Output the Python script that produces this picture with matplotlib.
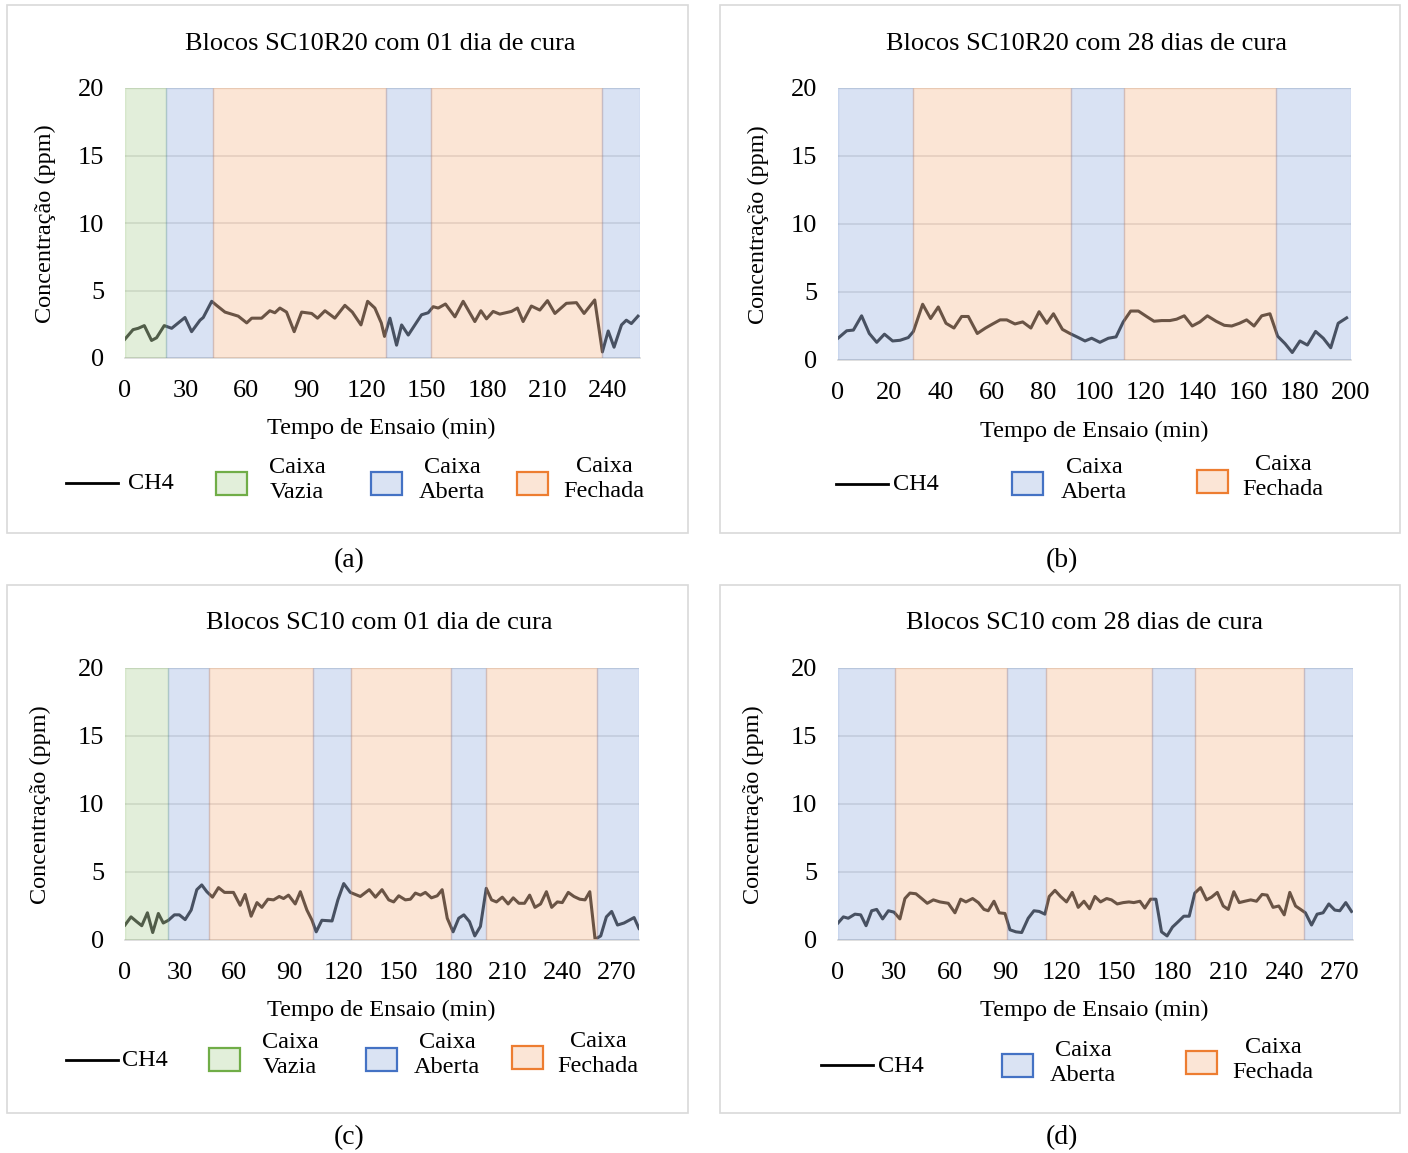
import matplotlib.pyplot as plt
from matplotlib.patches import Rectangle
from matplotlib.lines import Line2D

# ==== DADOS ====

# (a) SC10R20, 01 dia
t_a = [0, 4, 6.6, 9.6, 13.2, 15.7, 19.5, 23.2, 29.8, 33.1, 37.3, 38.9, 43.1, 45.5, 49.7,
       56.3, 60.5, 63, 67.9, 72, 74.5, 77, 80.3, 84.1, 87.8, 92.8, 95.7, 99.4, 104.3, 109.3,
       113, 117.3, 120.6, 124.2, 127.4, 129, 131.7, 135, 137.5, 140.8, 147.4, 150.7, 153.2,
       155.7, 159.3, 164, 168.1, 173.9, 176.9, 179.7, 183, 186.3, 192.1, 195.1, 197.9, 202,
       206.2, 210, 213.7, 219.4, 224.4, 228.2, 233.5, 237.3, 240.2, 243.1, 246.8, 249.2,
       251.7, 255]
ch4_a = [1.4, 2.1, 2.2, 2.4, 1.3, 1.5, 2.4, 2.2, 3.0, 1.95, 2.8, 3.0, 4.2, 3.9, 3.4,
         3.1, 2.6, 2.95, 2.95, 3.5, 3.35, 3.7, 3.4, 1.95, 3.4, 3.3, 2.95, 3.5, 2.95, 3.9,
         3.4, 2.45, 4.2, 3.7, 2.6, 1.6, 2.95, 0.95, 2.45, 1.7, 3.2, 3.35, 3.8,
         3.7, 4.0, 3.05, 4.2, 2.7, 3.5, 2.9, 3.45, 3.25, 3.45, 3.7, 2.7, 3.85,
         3.55, 4.25, 3.3, 4.05, 4.1, 3.3, 4.3, 0.45, 2.0, 0.8, 2.45, 2.8,
         2.55, 3.1]
lim_a = [0, 20.4, 43.7, 129.7, 152, 237, 256]
fase_a = ['vazia', 'aberta', 'fechada', 'aberta', 'fechada', 'aberta']

# (b) SC10R20, 28 dias
t_b = [0, 3.4, 6, 9.2, 12.2, 15.1, 18.1, 21.3, 24.2, 27.4, 29.4, 33, 36.1, 39.1, 42.1,
       45.2, 48.2, 50.8, 54.3, 57.5, 60.3, 63.2, 65.8, 69, 72, 75.2, 78.4, 81.4, 84, 87.5,
       90.4, 93.7, 96.3, 98.9, 102.1, 105.4, 108.4, 111.2, 114.1, 117.1, 120.3, 123.2,
       126.2, 129.4, 132, 135, 138.1, 141.1, 144, 147.4, 150.6, 153.5, 156.5, 159.3, 162.2,
       165.2, 168.4, 171.4, 174.3, 177.1, 180.1, 183, 186.2, 189.2, 192.1, 195, 198.3]
ch4_b = [1.6, 2.15, 2.2, 3.25, 1.95, 1.3, 1.9, 1.4, 1.45, 1.65, 2.1, 4.1, 3.05, 3.9, 2.7,
         2.35, 3.2, 3.2, 1.95, 2.35, 2.65, 2.95, 2.95, 2.65, 2.8, 2.35, 3.55, 2.7, 3.4, 2.25,
         1.95, 1.65, 1.4, 1.6, 1.3, 1.6, 1.7, 2.8, 3.6, 3.6, 3.2, 2.85,
         2.9, 2.9, 3.0, 3.25, 2.5, 2.8, 3.25, 2.85, 2.55, 2.5, 2.7, 2.95, 2.5,
         3.25, 3.4, 1.75, 1.2, 0.55, 1.4, 1.1, 2.1, 1.6, 0.9, 2.7, 3.1]
lim_b = [0, 29.2, 90.8, 111.5, 170.8, 200]
fase_b = ['aberta', 'fechada', 'aberta', 'fechada', 'aberta']

# (c) SC10, 01 dia
t_c = [0, 3.3, 6.4, 9.2, 12.3, 15.2, 18.3, 21, 23.8, 27.1, 29.8, 33, 36.3, 39.4, 42.1,
       44.9, 48, 51.3, 54.6, 59.5, 63.2, 65.9, 69.2, 72.4, 75.1, 78.4, 81.5, 84.6, 87, 89.7,
       93.4, 96.2, 99.8, 102.6, 104.9, 108, 113.6, 116.8, 120, 123.6, 129.1, 134, 137.4,
       141, 144.7, 147.4, 150.2, 153.8, 156.6, 159.3, 162.1, 164.8, 168.1, 171.3, 174,
       176.8, 180, 183.1, 185.9, 189, 191.9, 195, 198.2, 201.1, 203.8, 207, 210.2, 213,
       216.1, 219.2, 222, 224.9, 228, 231.2, 234.1, 237.2, 239.9, 243.2, 246.3, 249.5,
       252.4, 255, 257.9, 261, 264.1, 267, 270.2, 273.8, 279.3, 282]
ch4_c = [1.1, 1.7, 1.35, 1.05, 2.0, 0.55, 1.95, 1.25, 1.45, 1.85, 1.85, 1.5, 2.2, 3.7, 4.05,
         3.55, 3.15, 3.85, 3.5, 3.5, 2.55, 3.35, 1.75, 2.75, 2.4, 3.0, 2.95, 3.2, 3.05, 3.3,
         2.65, 3.55, 2.2, 1.45, 0.6, 1.45, 1.4, 2.95, 4.15, 3.5, 3.2, 3.7, 3.15,
         3.7, 2.95, 2.8, 3.25, 2.95, 3.0, 3.45, 3.3, 3.5, 3.1, 3.25, 3.7,
         1.6, 0.6, 1.6, 1.85, 1.35, 0.3, 1.0, 3.8, 2.95, 2.8, 3.15, 2.65, 3.1,
         2.7, 2.7, 3.3, 2.4, 2.65, 3.55, 2.4, 2.8, 2.75, 3.5, 3.2, 3.0,
         2.95, 3.55, 0.05, 0.3, 1.7, 2.1, 1.1, 1.25, 1.65, 0.85]
lim_c = [0, 23.6, 46, 103, 124, 179, 198, 259, 282]
fase_c = ['vazia', 'aberta', 'fechada', 'aberta', 'fechada', 'aberta', 'fechada', 'aberta']

# (d) SC10, 28 dias
t_d = [0, 2.9, 5.5, 9.1, 12.2, 15.1, 18.1, 20.8, 24, 27.1, 30.1, 33.3, 36, 38.7, 41.9,
       45, 48, 51.3, 54.8, 59.3, 62.9, 66, 68.8, 72.4, 75.5, 78.5, 80.8, 83.9, 86.7, 89.8,
       92.5, 95.7, 98.8, 102.3, 105.4, 108.2, 111.3, 113.6, 116.7, 119.7, 122.9, 126,
       129.2, 132.3, 135.3, 138.2, 141.2, 144.5, 147.1, 150.2, 153.4, 156.5, 159.1, 162.4,
       165, 168.1, 171, 174, 177, 179.9, 183, 186, 188.9, 191.9, 195, 198.2, 200.9, 204,
       207.2, 209.9, 212.9, 215.8, 218.8, 222, 225.1, 228.1, 230.8, 234, 237.1, 240, 243,
       246.1, 248.8, 251.4, 254.7, 257.7, 260.9, 264, 267.2, 269.9, 273.1, 276.2]
ch4_d = [1.25, 1.7, 1.6, 1.9, 1.85, 1.05, 2.15, 2.25, 1.55, 2.15, 2.05, 1.55, 3.05, 3.45, 3.4,
         3.05, 2.7, 2.95, 2.8, 2.7, 2.0, 3.0, 2.8, 3.05, 2.75, 2.25, 2.15, 2.85, 2.0, 1.95,
         0.75, 0.6, 0.55, 1.6, 2.15, 2.1, 1.9, 3.2, 3.65, 3.2, 2.8, 3.5,
         2.4, 2.85, 2.3, 3.2, 2.8, 3.05, 2.95, 2.65, 2.75, 2.8, 2.75, 2.85,
         2.35, 3.0, 3.0, 0.6, 0.3, 0.95, 1.35, 1.75, 1.75, 3.45, 3.85, 2.95, 3.15, 3.5,
         2.5, 2.25, 3.55, 2.75, 2.85, 2.95, 2.85, 3.35, 3.3, 2.4, 2.5, 1.85, 3.5,
         2.5, 2.25, 2.0, 1.1, 1.9, 2.0, 2.65, 2.2, 2.15, 2.75, 2.1]
lim_d = [0, 30.6, 90.8, 111.8, 168.8, 191.9, 250.5, 277]
fase_d = ['aberta', 'fechada', 'aberta', 'fechada', 'aberta', 'fechada', 'aberta']

COR = {'vazia': '#70ad47', 'aberta': '#4472c4', 'fechada': '#ed7d31'}
COR_CLARA = {'vazia': '#e2efda', 'aberta': '#dae3f3', 'fechada': '#fbe5d6'}
NOME = {'vazia': 'Caixa\nVazia', 'aberta': 'Caixa\nAberta', 'fechada': 'Caixa\nFechada'}

# ==== FIGURA ====

plt.rcParams['font.family'] = 'Liberation Serif'
FS = 17.5
W, H = 1408, 1153
fig = plt.figure(figsize=(W / 100, H / 100), dpi=100)


def fx(px):
    return px / W


def fy(py):
    return 1 - py / H


def painel(caixa, eixo, titulo, pos_tit, pos_xl, pos_yl, t, ch4, lim, fases, xmax, xt,
           leg_linha, leg_itens, letra, pos_letra):
    x0, y0, x1, y1 = caixa
    fig.patches.append(Rectangle((fx(x0), fy(y1)), fx(x1 - x0), (y1 - y0) / H,
                                 transform=fig.transFigure, fill=False,
                                 edgecolor='#d9d9d9', lw=1.2))
    ax = fig.add_axes([fx(eixo[0]), fy(eixo[3]), fx(eixo[2] - eixo[0]), (eixo[3] - eixo[1]) / H])
    ax.plot(t, ch4, color='#4a4a4a', lw=2.2, zorder=2)
    # faixas das fases por cima da curva, com transparência
    for i, f in enumerate(fases):
        ax.axvspan(lim[i], lim[i + 1], facecolor=COR[f], edgecolor=COR[f], alpha=0.2,
                   lw=1.0, zorder=3)
    ax.set_xlim(0, xmax)
    ax.set_ylim(0, 20)
    ax.set_xticks(xt)
    ax.set_yticks([0, 5, 10, 15, 20])
    ax.grid(axis='y', color='#e0e0e0', lw=1.1, zorder=0)
    ax.set_axisbelow(True)
    for s in ['top', 'right', 'left']:
        ax.spines[s].set_visible(False)
    ax.spines['bottom'].set_color('#d9d9d9')
    ax.spines['bottom'].set_linewidth(1.2)
    ax.tick_params(axis='x', length=0, pad=16, labelsize=19)
    ax.tick_params(axis='y', length=0, pad=15, labelsize=19)

    fig.text(fx(pos_tit[0]), fy(pos_tit[1] + 2), titulo, fontsize=19, ha='center', va='center')
    fig.text(fx(pos_xl[0]), fy(pos_xl[1] + 1), 'Tempo de Ensaio (min)', fontsize=FS,
             ha='center', va='center')
    fig.text(fx(pos_yl[0]), fy(pos_yl[1]), 'Concentração (ppm)', fontsize=FS,
             ha='center', va='center', rotation=90)

    # legenda
    lx0, lx1, ly, tx = leg_linha
    fig.lines.append(Line2D([fx(lx0), fx(lx1)], [fy(ly), fy(ly)], transform=fig.transFigure,
                            color='black', lw=2))
    fig.text(fx(tx), fy(ly + 1), 'CH4', fontsize=FS, ha='left', va='center')
    for f, sx, sy, cx, cy in leg_itens:
        fig.patches.append(Rectangle((fx(sx), fy(sy + 23)), fx(31), 23 / H,
                                     transform=fig.transFigure, facecolor=COR_CLARA[f],
                                     edgecolor=COR[f], lw=1.6))
        fig.text(fx(cx), fy(cy + 1), NOME[f], fontsize=FS, ha='center', va='center',
                 linespacing=1.3)

    fig.text(fx(pos_letra[0]), fy(pos_letra[1] + 1), letra, fontsize=20, ha='center', va='center')
    return ax


painel((7, 5, 688, 533), (125, 88, 640, 358), 'Blocos SC10R20 com 01 dia de cura',
       (380, 42), (381, 427), (45, 224), t_a, ch4_a, lim_a, fase_a, 256,
       [0, 30, 60, 90, 120, 150, 180, 210, 240],
       (66, 118, 483, 128),
       [('vazia', 216, 472, 297, 479), ('aberta', 371, 472, 452, 479),
        ('fechada', 517, 472, 604, 478)],
       '(a)', (349, 560))

painel((720, 5, 1400, 533), (838, 88, 1351, 360), 'Blocos SC10R20 com 28 dias de cura',
       (1087, 42), (1094, 430), (758, 225), t_b, ch4_b, lim_b, fase_b, 200,
       [0, 20, 40, 60, 80, 100, 120, 140, 160, 180, 200],
       (836, 888, 484, 893),
       [('aberta', 1012, 472, 1094, 479), ('fechada', 1197, 470, 1283, 476)],
       '(b)', (1062, 560))

painel((7, 585, 688, 1113), (125, 668, 639, 940), 'Blocos SC10 com 01 dia de cura',
       (379, 621), (381, 1009), (40, 805), t_c, ch4_c, lim_c, fase_c, 282,
       [0, 30, 60, 90, 120, 150, 180, 210, 240, 270],
       (66, 118, 1060, 122),
       [('vazia', 209, 1048, 290, 1054), ('aberta', 366, 1048, 447, 1054),
        ('fechada', 512, 1046, 598, 1053)],
       '(c)', (349, 1137))

painel((720, 585, 1400, 1113), (838, 668, 1353, 940), 'Blocos SC10 com 28 dias de cura',
       (1084, 621), (1094, 1009), (753, 805), t_d, ch4_d, lim_d, fase_d, 277,
       [0, 30, 60, 90, 120, 150, 180, 210, 240, 270],
       (821, 873, 1065, 878),
       [('aberta', 1002, 1054, 1083, 1062), ('fechada', 1186, 1051, 1273, 1059)],
       '(d)', (1062, 1137))

fig.savefig('out.png', dpi=100)
